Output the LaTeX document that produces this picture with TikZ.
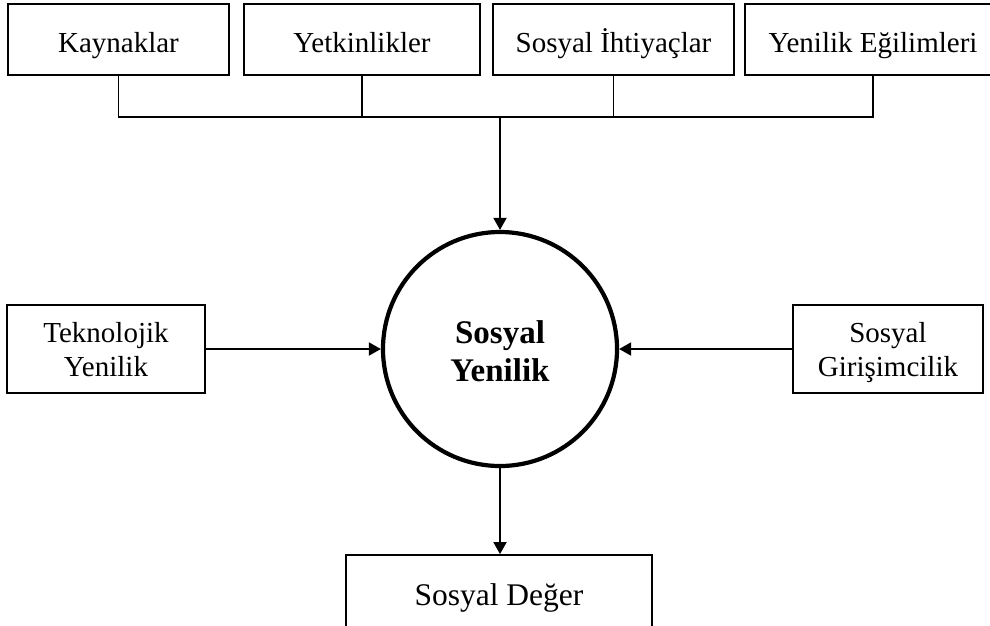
\documentclass[tikz,border=0pt]{standalone}
\usepackage{fontspec}
\setmainfont{Liberation Serif}
\usetikzlibrary{arrows.meta}
\newcommand{\twolines}[3]{\raisebox{#1}[0pt][0pt]{\begin{tabular}[b]{@{}c@{}}#2\\#3\end{tabular}}}
\tikzset{
  box/.style={draw, line width=1.8pt, inner sep=0pt, font=\fontsize{29}{34}\selectfont},
  onebox/.style={box, text height=25pt, text depth=0pt},
  conn/.style={line width=1.8pt},
  arr/.style={line width=1.8pt, -{Triangle[length=12pt,width=13pt]}},
  hub/.style={draw, circle, line width=4.2pt, minimum size=234pt, inner sep=0pt, font=\fontsize{33}{38}\selectfont\bfseries}
}
\begin{document}
\begin{tikzpicture}[x=1pt,y=-1pt]
\useasboundingbox (0,0) rectangle (990,625);
\clip (0,0) rectangle (990,625);
\node[onebox, minimum width=221pt, minimum height=71pt] (kay) at (118.5,39.5) {Kaynaklar};
\node[onebox, minimum width=236pt, minimum height=71pt] (yet) at (362,39.5) {Yetkinlikler};
\node[onebox, minimum width=241pt, minimum height=71pt] (iht) at (613.5,39.5) {Sosyal İhtiyaçlar};
\node[onebox, minimum width=256pt, minimum height=71pt] (egi) at (873,39.5) {Yenilik Eğilimleri};
\node[hub] (sy) at (500,349) {\twolines{-32pt}{Sosyal}{Yenilik}};
\node[box, minimum width=198pt, minimum height=88pt] (tek) at (106,349) {\twolines{-27.5pt}{Teknolojik}{Yenilik}};
\node[box, minimum width=190pt, minimum height=88pt] (gir) at (888,349) {\twolines{-27.5pt}{Sosyal}{Girişimcilik}};
\node[onebox, font=\fontsize{31.5}{37}\selectfont, minimum width=306pt, minimum height=75pt] (deg) at (499,592.5) {Sosyal Değer};
\coordinate (busL) at (kay.south |- 0,117);
\coordinate (busR) at (egi.south |- 0,117);
\coordinate (busM) at (sy.north |- 0,117);
\draw[conn] (kay.south) -- (busL) -- (busR) -- (egi.south);
\draw[conn] (yet.south) -- (yet.south |- busL);
\draw[conn] (iht.south) -- (iht.south |- busL);
\draw[arr] (busM) -- (sy.north);
\draw[arr] (tek.east) -- (sy.west);
\draw[arr] (gir.west) -- (sy.east);
\draw[arr] (sy.south) -- (sy.south |- deg.north);
\end{tikzpicture}
\end{document}
